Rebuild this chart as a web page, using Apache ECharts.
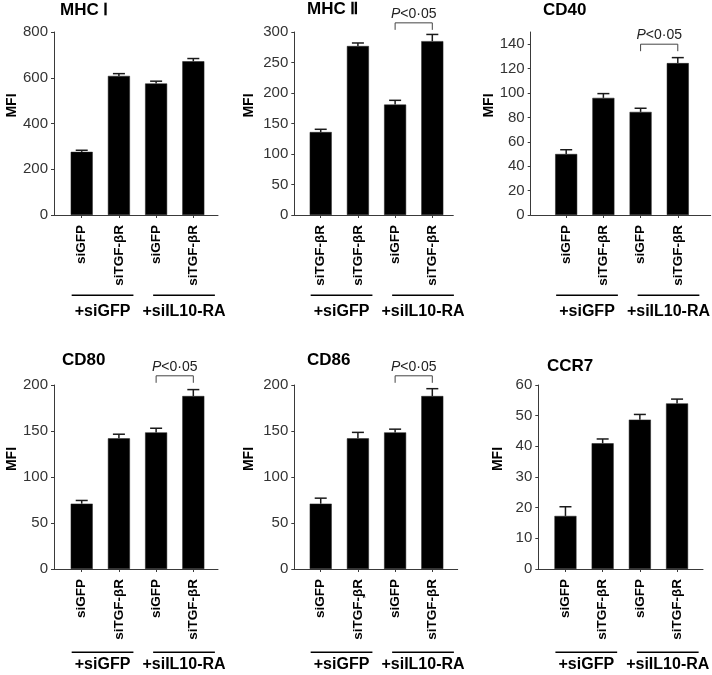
<!DOCTYPE html>
<html><head><meta charset="utf-8">
<script src="https://cdn.jsdelivr.net/npm/echarts@6/dist/echarts.min.js"></script>
<style>html,body{margin:0;padding:0;background:#fff}#c{width:712px;height:675px}</style>
</head><body><div id="c"></div>
<script>
// ---- data ----
const titles = ['MHC Ⅰ', 'MHC Ⅱ', 'CD40', 'CD80', 'CD86', 'CCR7'];
const catsMHC1 = ['siGFP', 'siTGF-βR', 'siGFP', 'siTGF-βR'];
const catsMHC2 = ['siTGF-βR', 'siTGF-βR', 'siGFP', 'siTGF-βR'];
const catsCD40 = ['siGFP', 'siTGF-βR', 'siGFP', 'siTGF-βR'];
const catsCD80 = ['siGFP', 'siTGF-βR', 'siGFP', 'siTGF-βR'];
const catsCD86 = ['siGFP', 'siTGF-̦βR', 'siGFP', 'siTGF-βR'];
const catsCCR7 = ['siGFP', 'siTGF-βR', 'siGFP', 'siTGF-βR'];
const groupLabels = ['+siGFP', '+siIL10-RA'];

const valMHC1 = [276, 608, 575, 672];
const errMHC1 = [7, 10, 10, 12];
const valMHC2 = [136, 277, 181, 285];
const errMHC2 = [4.5, 5, 7, 11];
const valCD40 = [50, 96, 84.5, 124.5];
const errCD40 = [3.5, 3.5, 3, 4.5];
const valCD80 = [71, 142, 148.5, 188];
const errCD80 = [3.5, 4.5, 4.5, 7];
const valCD86 = [71, 142, 148.5, 188];
const errCD86 = [6, 6.5, 3.5, 8];
const valCCR7 = [17.3, 41, 48.7, 54];
const errCCR7 = [3, 1.4, 1.7, 1.4];

const yMax = [800, 300, 150, 200, 200, 60];
const yInterval = [200, 50, 20, 50, 50, 10];
const ticksCD40 = [0, 20, 40, 60, 80, 100, 120, 140];
const pLabel = 'P<0·05';
const brackets = [null, 315, 140, 210, 210, null]; // bracket level (data units), between bars 3 and 4

// ---- layout (pixels) ----
const layout = [
  {left: 54,    top: 32,  width: 164,   height: 183, xMin: -0.745, nameGap: 34},
  {left: 294.3, top: 32,  width: 159,   height: 183, xMin: -0.71,  nameGap: 38},
  {left: 530.7, top: 32,  width: 180,   height: 183, xMin: -0.954, nameGap: 21},
  {left: 54,    top: 385, width: 164,   height: 184, xMin: -0.745, nameGap: 34},
  {left: 294.3, top: 385, width: 163.4, height: 184, xMin: -0.71,  nameGap: 38},
  {left: 538.3, top: 385, width: 164.7, height: 184, xMin: -0.73,  nameGap: 33}
];
const titlePos = [[60, 2], [307, 1], [543, 2], [62, 352], [307, 352], [547, 358]];
const spacing = 37.2;
const groupSpans = [[-0.27, 1.39], [1.92, 3.58]];

const cats = [catsMHC1, catsMHC2, catsCD40, catsCD80, catsCD86, catsCCR7];
const vals = [valMHC1, valMHC2, valCD40, valCD80, valCD86, valCCR7];
const errs = [errMHC1, errMHC2, errCD40, errCD80, errCD86, errCCR7];

const FONT = 'Liberation Sans, Arial, sans-serif';
const AXIS_COLOR = '#3a3a3a';

const option = {
  backgroundColor: '#fff',
  animation: false,
  title: [], grid: [], xAxis: [], yAxis: [], series: []
};

layout.forEach((L, i) => {
  const xMax = L.xMin + L.width / spacing;
  option.title.push({
    text: titles[i], left: titlePos[i][0], top: titlePos[i][1], padding: 0,
    textStyle: {fontFamily: FONT, fontSize: 17, fontWeight: 'bold', color: '#000'}
  });
  option.grid.push({left: L.left, top: L.top, width: L.width, height: L.height, containLabel: false});
  option.xAxis.push({
    gridIndex: i, type: 'value', min: L.xMin, max: xMax,
    axisLine: {show: true, onZero: false, lineStyle: {color: AXIS_COLOR, width: 1}},
    axisTick: {show: true, customValues: [0, 1, 2, 3], length: 3, lineStyle: {color: AXIS_COLOR}},
    axisLabel: {
      customValues: [0, 1, 2, 3], rotate: 90, margin: 10,
      formatter: (v) => cats[i][Math.round(v)] || '',
      fontFamily: FONT, fontSize: 13.5, fontWeight: 'bold', color: '#000'
    },
    splitLine: {show: false}
  });
  const yAx = {
    gridIndex: i, type: 'value', min: 0, max: yMax[i],
    name: 'MFI', nameLocation: 'middle', nameGap: L.nameGap,
    nameTextStyle: {fontFamily: FONT, fontSize: 14, fontWeight: 'bold', color: '#000', padding: [0, 0, 0, 36]},
    axisLine: {show: true, onZero: false, lineStyle: {color: AXIS_COLOR, width: 1}},
    axisTick: {show: true, length: 3, lineStyle: {color: AXIS_COLOR}},
    axisLabel: {fontFamily: FONT, fontSize: 15, color: '#333', margin: 6},
    splitLine: {show: false}
  };
  if (i === 2) {
    yAx.axisTick.customValues = ticksCD40;
    yAx.axisLabel.customValues = ticksCD40;
  } else {
    yAx.interval = yInterval[i];
  }
  option.yAxis.push(yAx);

  option.series.push({
    type: 'bar', xAxisIndex: i, yAxisIndex: i, barWidth: 22,
    data: vals[i].map((v, k) => [k, v]),
    itemStyle: {color: '#000', borderColor: '#222', borderWidth: 0.5},
    z: 2
  });
  option.series.push({
    type: 'custom', xAxisIndex: i, yAxisIndex: i, z: 3, clip: false,
    data: vals[i].map((v, k) => [k, v, errs[i][k]]),
    encode: {x: 0, y: 1},
    renderItem: (params, api) => {
      const x = api.value(0), v = api.value(1), e = api.value(2);
      const b = api.coord([x, v]), t = api.coord([x, v + e]);
      const st = {stroke: '#1a1a1a', lineWidth: 1.5};
      return {type: 'group', children: [
        {type: 'line', shape: {x1: b[0], y1: b[1], x2: t[0], y2: t[1]}, style: st},
        {type: 'line', shape: {x1: t[0] - 6, y1: t[1], x2: t[0] + 6, y2: t[1]}, style: st}
      ]};
    }
  });
  // group underlines and labels
  option.series.push({
    type: 'custom', xAxisIndex: i, yAxisIndex: i, z: 3, clip: false, silent: true,
    data: groupSpans.map((s, g) => [s[0], s[1], g]),
    encode: {x: [0, 1], y: 2},
    renderItem: (params, api) => {
      const cs = params.coordSys;
      const bottom = cs.y + cs.height;
      const a = api.coord([api.value(0), 0]), b = api.coord([api.value(1), 0]);
      const g = api.value(2);
      const ly = Math.round(bottom + (i < 3 ? 80 : 83)) + 0.25;
      const ty = bottom + (i < 3 ? 97 : 96);
      return {type: 'group', children: [
        {type: 'line', shape: {x1: a[0], y1: ly, x2: b[0], y2: ly}, style: {stroke: '#000', lineWidth: 1.5}},
        {type: 'text', style: {text: groupLabels[g], x: (a[0] + b[0]) / 2, y: ty, align: 'center', verticalAlign: 'middle',
          fontFamily: FONT, fontSize: 16, fontWeight: 'bold', fill: '#000'}}
      ]};
    }
  });
  if (brackets[i] !== null) {
    option.series.push({
      type: 'custom', xAxisIndex: i, yAxisIndex: i, z: 3, clip: false, silent: true,
      data: [[2, 3, brackets[i]]],
      encode: {x: [0, 1], y: 2},
      renderItem: (params, api) => {
        const a = api.coord([api.value(0), api.value(2)]);
        const b = api.coord([api.value(1), api.value(2)]);
        const leg = 7;
        return {type: 'group', children: [
          {type: 'polyline', shape: {points: [[a[0], a[1] + leg], [a[0], a[1]], [b[0], b[1]], [b[0], b[1] + leg]]},
            style: {stroke: '#444', lineWidth: 1, fill: null}},
          {type: 'text', style: {
            text: '{i|P}' + pLabel.slice(1), x: (a[0] + b[0]) / 2, y: a[1] - 2, align: 'center', verticalAlign: 'bottom',
            fontFamily: FONT, fontSize: 14, fill: '#222',
            rich: {i: {fontStyle: 'italic', fontFamily: FONT, fontSize: 14, color: '#222'}}
          }}
        ]};
      }
    });
  }
});

const chart = echarts.init(document.getElementById('c'), null, {renderer: 'canvas'});
chart.setOption(option);
</script>
</body></html>
